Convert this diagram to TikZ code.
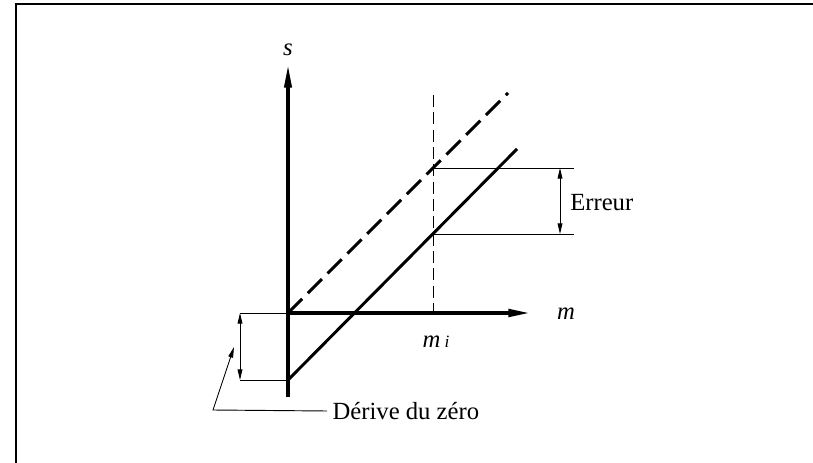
\documentclass[tikz,border=0pt]{standalone}
\usepackage{fontspec}
\setmainfont{Liberation Serif}
\usepackage{tikz}
\usetikzlibrary{arrows.meta}

\tikzset{
  axis/.style={line width=2.3pt,-{Triangle[length=17pt,width=5.5pt]}},
  curve/.style={line width=2.2pt},
  thinline/.style={line width=0.7pt},
  dimarrow/.style={line width=0.7pt,{Triangle[length=8pt,width=3.6pt]}-{Triangle[length=8pt,width=3.6pt]}},
  lbl/.style={font=\fontsize{18.5}{22}\selectfont,inner sep=0pt}
}

\begin{document}
\begin{tikzpicture}[x=0.75pt,y=-0.75pt,line cap=butt,line join=miter]
  \useasboundingbox (0,0) rectangle (813,463);
  % frame (only top and left edges show)
  \draw[line width=1.3pt] (16,470) -- (16,4) -- (820,4);

  \coordinate (O) at (288,313);
  \coordinate (sbot) at (288,397);
  \coordinate (stop) at (288,65);
  \coordinate (mtip) at (531,313);
  \coordinate (zero) at (288,380);
  \coordinate (dtop) at (508,93);
  \coordinate (ctop) at (517,149);
  \coordinate (vtop) at (433,95);
  \coordinate (vbot) at (433,313);
  \coordinate (ehi) at (433,168);
  \coordinate (elo) at (433,234);

  % axes
  \draw[axis] (sbot) -- (stop);
  \draw[axis,line width=2.8pt] (O) -- (mtip);
  \node[lbl] (s) at (288,50) {\textit{s}};
  \node[lbl] (m) at (566,314) {\textit{m}};

  % ideal and real characteristic
  \draw[curve,dash pattern=on 15pt off 6pt] (O) -- (dtop);
  \draw[curve] (zero) -- (ctop);

  % measurand m_i
  \draw[thinline,dash pattern=on 9pt off 4pt] (vtop) -- (vbot);
  \node[lbl] (mi) at (436,342) {\textit{m}\,{\fontsize{13}{15}\selectfont\textit{i}}};

  % error
  \draw[thinline] (ehi) -- (574,168);
  \draw[thinline] (elo) -- (574,234);
  \draw[dimarrow] (560,168) -- (560,234);
  \node[lbl,anchor=west] (err) at (570,203) {Erreur};

  % zero drift
  \draw[thinline] (O) -- (240,313);
  \draw[thinline] (zero) -- (240,380);
  \draw[dimarrow] (240,313) -- (240,380);
  \node[lbl,anchor=west,inner xsep=4pt] (drift) at (327,411) {Dérive du zéro};
  \draw[thinline,-{Triangle[length=8pt,width=3.6pt]}] (drift.west) -- (213,410) -- (234,347);
\end{tikzpicture}
\end{document}
